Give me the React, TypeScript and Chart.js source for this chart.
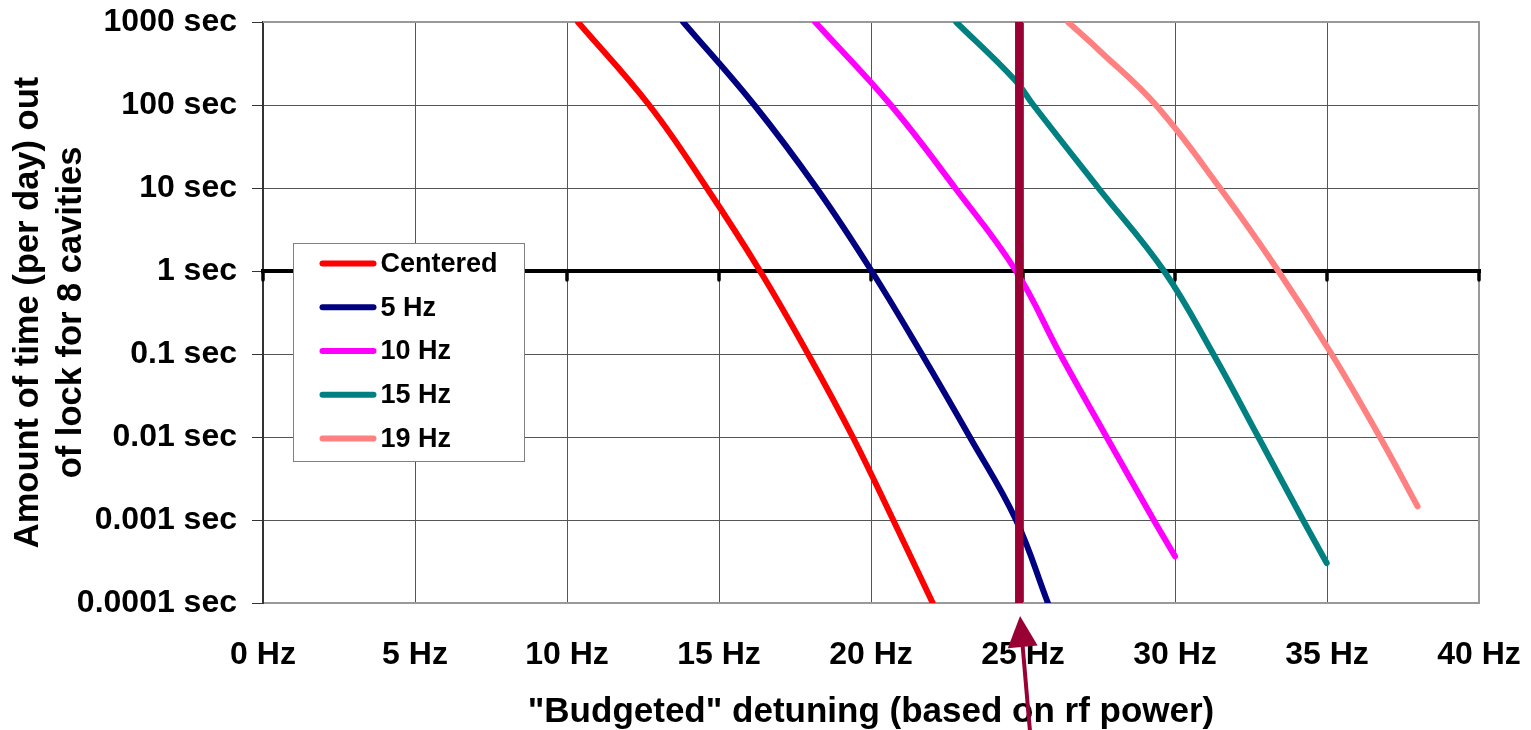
import React, { useEffect, useRef } from 'react';
import { Chart, registerables } from 'chart.js';

Chart.register(...registerables);

// ---------- data ----------
const SERIES_LABELS = ['Centered', '5 Hz', '10 Hz', '15 Hz', '19 Hz'];
const SERIES_COLORS = ['#FF0000', '#000080', '#FF00FF', '#008080', '#FF8080'];

const CENTERED_X = [10.36, 12.7, 14.6, 16.35, 17.93, 19.4, 20.73, 22.03];
const CENTERED_Y = [1000, 100, 10, 1, 0.1, 0.01, 0.001, 0.0001];

const HZ5_X = [13.82, 16.16, 18.21, 20.02, 21.67, 23.25, 24.77, 25.82];
const HZ5_Y = [1000, 100, 10, 1, 0.1, 0.01, 0.001, 0.0001];

const HZ10_X = [18.16, 20.65, 22.77, 24.77, 26.22, 27.75, 29.3, 30.0];
const HZ10_Y = [1000, 100, 10, 1, 0.1, 0.01, 0.001, 0.000365];

const HZ15_X = [22.8, 24.74, 25.34, 27.48, 29.64, 31.26, 32.74, 34.21, 34.99];
const HZ15_Y = [1000, 199, 100, 10, 1, 0.1, 0.01, 0.001, 0.000303];

const HZ19_X = [26.48, 27.5, 29.37, 31.48, 33.4, 35.15, 36.74, 37.98];
const HZ19_Y = [1000, 457, 100, 10, 1, 0.1, 0.01, 0.00146];

const BUDGET_X = [24.87, 24.87];
const BUDGET_Y = [1000, 0.0001];

const X_TICKS = [0, 5, 10, 15, 20, 25, 30, 35, 40];
const X_TICK_LABELS = ['0 Hz', '5 Hz', '10 Hz', '15 Hz', '20 Hz', '25 Hz', '30 Hz', '35 Hz', '40 Hz'];
const Y_TICKS = [0.0001, 0.001, 0.01, 0.1, 1, 10, 100, 1000];
const Y_TICK_LABELS = ['0.0001 sec', '0.001 sec', '0.01 sec', '0.1 sec', '1 sec', '10 sec', '100 sec', '1000 sec'];
const AXIS_CROSS = 1;

const X_TITLE = '"Budgeted" detuning (based on rf power)';
const Y_TITLE = ['Amount of time (per day) out', 'of lock for 8 cavities'];

const FONT = "'Liberation Sans', Arial, Helvetica, sans-serif";
const MAROON = '#990033';

const zip = (xs: number[], ys: number[]) => xs.map((x, i) => ({ x, y: ys[i] }));

const SERIES_X = [CENTERED_X, HZ5_X, HZ10_X, HZ15_X, HZ19_X];
const SERIES_Y = [CENTERED_Y, HZ5_Y, HZ10_Y, HZ15_Y, HZ19_Y];

const decorPlugin = {
  id: 'decor',
  beforeDatasetsDraw(chart: any) {
    const { ctx, chartArea: a, scales } = chart;
    const x = scales.x;
    const y = scales.y;
    ctx.save();
    // light frame (top, right)
    ctx.strokeStyle = '#999999';
    ctx.lineWidth = 2;
    ctx.beginPath();
    ctx.moveTo(a.left, a.top);
    ctx.lineTo(a.right, a.top);
    ctx.lineTo(a.right, a.bottom);
    ctx.stroke();
    // crossing axis at 1 sec with tick marks
    const yp = y.getPixelForValue(AXIS_CROSS);
    ctx.strokeStyle = '#000000';
    ctx.lineWidth = 4;
    ctx.lineCap = 'butt';
    ctx.beginPath();
    ctx.moveTo(a.left - 2, yp);
    ctx.lineTo(a.right + 2, yp);
    ctx.stroke();
    ctx.lineWidth = 3.5;
    ctx.lineCap = 'round';
    X_TICKS.forEach((v) => {
      const px = x.getPixelForValue(v);
      ctx.beginPath();
      ctx.moveTo(px, yp);
      ctx.lineTo(px, yp + 9);
      ctx.stroke();
    });
    ctx.restore();
  },
  afterDatasetsDraw(chart: any) {
    const { ctx, chartArea: a } = chart;
    ctx.save();
    const x0 = Math.round(a.left + 30) + 0.5;
    const y0 = Math.round(a.top + 221) + 0.5;
    const w = 231;
    const h = 218;
    ctx.fillStyle = '#ffffff';
    ctx.fillRect(x0, y0, w, h);
    ctx.strokeStyle = '#808080';
    ctx.lineWidth = 1;
    ctx.strokeRect(x0, y0, w, h);
    ctx.font = `bold 27px ${FONT}`;
    ctx.textBaseline = 'middle';
    ctx.textAlign = 'left';
    SERIES_LABELS.forEach((lab, i) => {
      const cy = y0 + 20 + i * 43.75;
      ctx.strokeStyle = SERIES_COLORS[i];
      ctx.lineWidth = 6;
      ctx.lineCap = 'round';
      ctx.beginPath();
      ctx.moveTo(x0 + 29, cy);
      ctx.lineTo(x0 + 80, cy);
      ctx.stroke();
      ctx.fillStyle = '#000000';
      ctx.fillText(lab, x0 + 87, cy + 1);
    });
    ctx.restore();
  },
  afterDraw(chart: any) {
    const { ctx, chartArea: a, scales } = chart;
    const xp = scales.x.getPixelForValue(BUDGET_X[0]);
    const tip = { x: xp + 1, y: a.bottom + 13 };
    const tail = { x: xp + 11, y: chart.height + 2 };
    const dx = tip.x - tail.x;
    const dy = tip.y - tail.y;
    const len = Math.hypot(dx, dy);
    const ux = dx / len;
    const uy = dy / len;
    const nx = -uy;
    const ny = ux;
    const headLen = 31;
    const headHalf = 15;
    const bx = tip.x - ux * headLen;
    const by = tip.y - uy * headLen;
    ctx.save();
    ctx.strokeStyle = MAROON;
    ctx.fillStyle = MAROON;
    ctx.lineWidth = 4;
    ctx.beginPath();
    ctx.moveTo(tail.x, tail.y);
    ctx.lineTo(bx + ux * 4, by + uy * 4);
    ctx.stroke();
    ctx.beginPath();
    ctx.moveTo(tip.x, tip.y);
    ctx.lineTo(bx + nx * headHalf, by + ny * headHalf);
    ctx.lineTo(bx - nx * headHalf, by - ny * headHalf);
    ctx.closePath();
    ctx.fill();
    ctx.restore();
  },
};

export default function App() {
  const ref = useRef<HTMLCanvasElement | null>(null);

  useEffect(() => {
    if (!ref.current) return;
    const datasets: any[] = [
      {
        label: 'budget',
        data: zip(BUDGET_X, BUDGET_Y),
        borderColor: MAROON,
        backgroundColor: MAROON,
        borderWidth: 8,
        borderCapStyle: 'butt',
        pointRadius: 0,
        fill: false,
        order: 0,
      },
      ...SERIES_LABELS.map((label, i) => ({
        label,
        data: zip(SERIES_X[i], SERIES_Y[i]),
        borderColor: SERIES_COLORS[i],
        backgroundColor: SERIES_COLORS[i],
        borderWidth: 6,
        borderCapStyle: 'round',
        borderJoinStyle: 'round',
        pointRadius: 0,
        fill: false,
        tension: 0.4,
        order: 1,
      })),
    ];

    const chart = new Chart(ref.current, {
      type: 'line',
      data: { datasets },
      plugins: [decorPlugin],
      options: {
        animation: false,
        responsive: false,
        devicePixelRatio: 1,
        events: [],
        layout: { padding: { left: 0, right: 52, top: 22, bottom: 0 } },
        plugins: { legend: { display: false }, tooltip: { enabled: false } },
        scales: {
          x: {
            type: 'linear',
            min: 0,
            max: 40,
            afterBuildTicks: (s: any) => {
              s.ticks = X_TICKS.map((v) => ({ value: v }));
            },
            afterFit: (s: any) => {
              s.height = 127;
              s.paddingLeft = 0;
              s.paddingRight = 0;
            },
            ticks: {
              autoSkip: false,
              maxRotation: 0,
              padding: 33,
              color: '#000000',
              font: { family: FONT, size: 32, weight: 'bold' },
              callback: (v: any) => X_TICK_LABELS[X_TICKS.indexOf(Number(v))] ?? '',
            },
            grid: { color: '#555555', lineWidth: 1, drawTicks: false },
            border: { color: '#999999', width: 2 },
            title: {
              display: true,
              text: X_TITLE,
              color: '#000000',
              font: { family: FONT, size: 35, weight: 'bold', lineHeight: 1 },
              padding: { top: 0, bottom: 0 },
            },
          },
          y: {
            type: 'logarithmic',
            min: 0.0001,
            max: 1000,
            afterBuildTicks: (s: any) => {
              s.ticks = Y_TICKS.map((v) => ({ value: v }));
            },
            afterFit: (s: any) => {
              s.width = 263;
              s.paddingTop = 0;
              s.paddingBottom = 0;
            },
            ticks: {
              autoSkip: false,
              padding: 15,
              color: '#000000',
              font: { family: FONT, size: 32, weight: 'bold' },
              callback: (v: any) => {
                const i = Y_TICKS.findIndex((t) => Math.abs(Math.log10(t) - Math.log10(Number(v))) < 1e-6);
                return i >= 0 ? Y_TICK_LABELS[i] : '';
              },
            },
            grid: { color: '#555555', lineWidth: 1, tickLength: 11, tickColor: '#333333' },
            border: { color: '#333333', width: 2 },
            title: {
              display: true,
              text: Y_TITLE,
              color: '#000000',
              font: { family: FONT, size: 34.5, weight: 'bold', lineHeight: 1.24 },
              padding: { top: 7, bottom: 0 },
            },
          },
        },
      } as any,
    });
    return () => chart.destroy();
  }, []);

  return (
    <div style={{ position: 'absolute', left: 0, top: 0, width: 1531, height: 730, background: '#ffffff' }}>
      <canvas ref={ref} width={1531} height={730} style={{ display: 'block' }} />
    </div>
  );
}
